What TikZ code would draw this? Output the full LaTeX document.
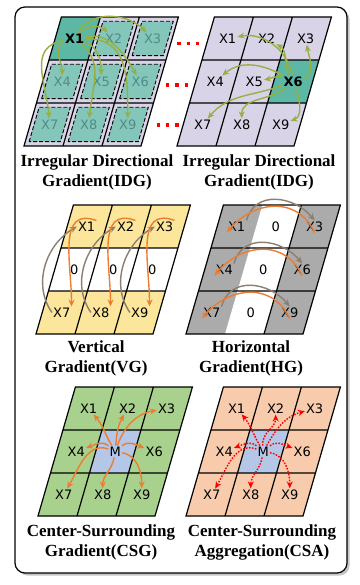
\documentclass[tikz,border=0pt]{standalone}
\usepackage{fontspec}
\setmainfont{Liberation Serif}
\newfontfamily\cellfont{DejaVu Sans}
\usetikzlibrary{arrows.meta, shadows}

\definecolor{lavender}{HTML}{D9D3E8}
\definecolor{tealcell}{HTML}{5CB8A5}
\definecolor{tealbox}{HTML}{84C6BA}
\definecolor{tealtext}{HTML}{4F8C86}
\definecolor{olivearrow}{HTML}{96B041}
\definecolor{yellowcell}{HTML}{FCE69B}
\definecolor{greycell}{HTML}{ABABAB}
\definecolor{greyarrow}{HTML}{8C7E70}
\definecolor{orangearrow}{HTML}{ED7D31}
\definecolor{greencell}{HTML}{A9D18E}
\definecolor{bluecell}{HTML}{B4C7E7}
\definecolor{peachcell}{HTML}{F8CBAD}

\begin{document}
\begin{tikzpicture}[
    x=1pt, y=1pt,
    slanted/.style={xslant=0.29, x=39pt, y=43pt},
    gridline/.style={line width=1.2pt},
    dashbox/.style={fill=tealbox, draw, line width=0.9pt, dash pattern=on 4pt off 2pt},
    cell/.style={font=\cellfont\fontsize{13}{13}\selectfont, inner sep=1pt},
    focus/.style={cell, font=\cellfont\bfseries\fontsize{13}{13}\selectfont},
    faded/.style={cell, text=tealtext},
    caption/.style={font=\bfseries\fontsize{17}{20}\selectfont, align=center},
    idg/.style={-{Stealth[length=7pt, width=6pt]}, line width=1.4pt, draw=olivearrow},
    back/.style={-{Stealth[length=7pt, width=6pt]}, line width=1.4pt, draw=greyarrow},
    forth/.style={-{Stealth[length=7pt, width=6pt]}, line width=1.4pt, draw=orangearrow},
    gather/.style={-{Stealth[length=7pt, width=6pt]}, line width=1.4pt, draw=red, dash pattern=on 1.6pt off 1.4pt},
    dots/.style={draw=red, line width=3.3pt, dash pattern=on 3.3pt off 6pt}
]
    \useasboundingbox (0,0) rectangle (359,-585);

    % Outer panel
    \draw[line width=1.2pt, rounded corners=10pt, fill=white, drop shadow={shadow xshift=2.5pt, shadow yshift=-2.5pt, fill=black!45}] (15,-7) rectangle (347,-573);

    % Irregular directional gradient, left grid
    \begin{scope}[shift={(24,-146)}, slanted]
        \fill[lavender] (0,0) rectangle (3,3);
        \fill[tealcell] (0,2) rectangle (1,3);
        \draw[dashbox] (1.1,2.1) rectangle (1.9,2.9);
        \draw[dashbox] (2.1,2.1) rectangle (2.9,2.9);
        \draw[dashbox] (0.1,1.1) rectangle (0.9,1.9);
        \draw[dashbox] (1.1,1.1) rectangle (1.9,1.9);
        \draw[dashbox] (2.1,1.1) rectangle (2.9,1.9);
        \draw[dashbox] (0.1,0.1) rectangle (0.9,0.9);
        \draw[dashbox] (1.1,0.1) rectangle (1.9,0.9);
        \draw[dashbox] (2.1,0.1) rectangle (2.9,0.9);
        \draw[gridline] (0,0) rectangle (3,3) (1,0) -- (1,3) (2,0) -- (2,3) (0,1) -- (3,1) (0,2) -- (3,2);
        \node[focus] (a1) at (0.5,2.5) {X1}; \node[faded] (a2) at (1.5,2.5) {X2}; \node[faded] (a3) at (2.5,2.5) {X3};
        \node[faded] (a4) at (0.5,1.5) {X4}; \node[faded] (a5) at (1.5,1.5) {X5}; \node[faded] (a6) at (2.5,1.5) {X6};
        \node[faded] (a7) at (0.5,0.5) {X7}; \node[faded] (a8) at (1.5,0.5) {X8}; \node[faded] (a9) at (2.5,0.5) {X9};
    \end{scope}

    % Irregular directional gradient, right grid
    \begin{scope}[shift={(177,-146)}, slanted]
        \fill[lavender] (0,0) rectangle (3,3);
        \fill[tealcell] (2,1) rectangle (3,2);
        \draw[gridline] (0,0) rectangle (3,3) (1,0) -- (1,3) (2,0) -- (2,3) (0,1) -- (3,1) (0,2) -- (3,2);
        \node[cell] (b1) at (0.5,2.5) {X1}; \node[cell] (b2) at (1.5,2.5) {X2}; \node[cell] (b3) at (2.5,2.5) {X3};
        \node[cell] (b4) at (0.5,1.5) {X4}; \node[cell] (b5) at (1.5,1.5) {X5}; \node[focus] (b6) at (2.5,1.5) {X6};
        \node[cell] (b7) at (0.5,0.5) {X7}; \node[cell] (b8) at (1.5,0.5) {X8}; \node[cell] (b9) at (2.5,0.5) {X9};
    \end{scope}

    % Vertical gradient
    \begin{scope}[shift={(36,-334)}, slanted]
        \fill[yellowcell] (0,0) rectangle (3,1) (0,2) rectangle (3,3);
        \fill[white] (0,1) rectangle (3,2);
        \draw[gridline] (0,0) rectangle (3,3) (1,0) -- (1,3) (2,0) -- (2,3) (0,1) -- (3,1) (0,2) -- (3,2);
        \node[cell] (v1) at (0.5,2.5) {X1}; \node[cell] (v2) at (1.5,2.5) {X2}; \node[cell] (v3) at (2.5,2.5) {X3};
        \node[cell] (v4) at (0.5,1.5) {0}; \node[cell] (v5) at (1.5,1.5) {0}; \node[cell] (v6) at (2.5,1.5) {0};
        \node[cell] (v7) at (0.5,0.5) {X7}; \node[cell] (v8) at (1.5,0.5) {X8}; \node[cell] (v9) at (2.5,0.5) {X9};
    \end{scope}

    % Horizontal gradient
    \begin{scope}[shift={(186,-334)}, slanted]
        \fill[greycell] (0,0) rectangle (3,3);
        \fill[white] (1,0) rectangle (2,3);
        \draw[gridline] (0,0) rectangle (3,3) (2,0) -- (2,3) (0,1) -- (3,1) (0,2) -- (3,2);
        \node[cell] (h1) at (0.5,2.5) {X1}; \node[cell] (h2) at (1.5,2.5) {0}; \node[cell] (h3) at (2.5,2.5) {X3};
        \node[cell] (h4) at (0.5,1.5) {X4}; \node[cell] (h5) at (1.5,1.5) {0}; \node[cell] (h6) at (2.5,1.5) {X6};
        \node[cell] (h7) at (0.5,0.5) {X7}; \node[cell] (h8) at (1.5,0.5) {0}; \node[cell] (h9) at (2.5,0.5) {X9};
    \end{scope}

    % Center-surrounding gradient
    \begin{scope}[shift={(38,-516)}, slanted]
        \fill[greencell] (0,0) rectangle (3,3);
        \fill[bluecell] (1,1) rectangle (2,2);
        \draw[gridline] (0,0) rectangle (3,3) (1,0) -- (1,3) (2,0) -- (2,3) (0,1) -- (3,1) (0,2) -- (3,2);
        \node[cell] (c1) at (0.5,2.5) {X1}; \node[cell] (c2) at (1.5,2.5) {X2}; \node[cell] (c3) at (2.5,2.5) {X3};
        \node[cell] (c4) at (0.5,1.5) {X4}; \node[cell] (cm) at (1.5,1.5) {M}; \node[cell] (c6) at (2.5,1.5) {X6};
        \node[cell] (c7) at (0.5,0.5) {X7}; \node[cell] (c8) at (1.5,0.5) {X8}; \node[cell] (c9) at (2.5,0.5) {X9};
    \end{scope}

    % Center-surrounding aggregation
    \begin{scope}[shift={(186,-516)}, slanted]
        \fill[peachcell] (0,0) rectangle (3,3);
        \fill[bluecell] (1,1) rectangle (2,2);
        \draw[gridline] (0,0) rectangle (3,3) (1,0) -- (1,3) (2,0) -- (2,3) (0,1) -- (3,1) (0,2) -- (3,2);
        \node[cell] (s1) at (0.5,2.5) {X1}; \node[cell] (s2) at (1.5,2.5) {X2}; \node[cell] (s3) at (2.5,2.5) {X3};
        \node[cell] (s4) at (0.5,1.5) {X4}; \node[cell] (sm) at (1.5,1.5) {M}; \node[cell] (s6) at (2.5,1.5) {X6};
        \node[cell] (s7) at (0.5,0.5) {X7}; \node[cell] (s8) at (1.5,0.5) {X8}; \node[cell] (s9) at (2.5,0.5) {X9};
    \end{scope}

    % Ellipses between the two IDG grids
    \draw[dots] (177.3,-43.3) -- (200,-43.3);
    \draw[dots] (166,-85) -- (188.7,-85);
    \draw[dots] (156.7,-125) -- (179.4,-125);

    % Captions
    \node[caption] (idgcapA) at (97,-172) {Irregular Directional\\Gradient(IDG)};
    \node[caption] (idgcapB) at (259,-172) {Irregular Directional\\Gradient(IDG)};
    \node[caption] (vgcap) at (96,-358) {Vertical\\Gradient(VG)};
    \node[caption] (hgcap) at (251,-358) {Horizontal\\Gradient(HG)};
    \node[caption] (csgcap) at (101,-542) {Center-Surrounding\\Gradient(CSG)};
    \node[caption] (csacap) at (262,-542) {Center-Surrounding\\Aggregation(CSA)};

    % IDG arrows from X1
    \draw[idg] (a1) to[bend left=45] (a2);
    \draw[idg] (a1) to[out=60, in=135] (a3);
    \draw[idg] (a1) to[out=200, in=90] (a4);
    \draw[idg] (a1) to[out=190, in=95, looseness=1.2] (a7);
    \draw[idg] (a1) to[out=-20, in=90] (a5);
    \draw[idg] (a1) to[out=-40, in=85] (a8);
    \draw[idg] (a1) to[out=10, in=120] (a6);
    \draw[idg] (a1) to[out=0, in=90, looseness=1.2] (a9);

    % IDG arrows from X6
    \draw[idg] (b6) to[out=100, in=10] (b1);
    \draw[idg] (b6) to[out=120, in=-30] (b2);
    \draw[idg] (b6) to[out=20, in=-80] (b3);
    \draw[idg] (b6) to[out=150, in=40] (b4);
    \draw[idg] (b6) to[out=160, in=10] (b5);
    \draw[idg] (b6) to[out=200, in=50] (b7);
    \draw[idg] (b6) to[out=220, in=90] (b8);
    \draw[idg] (b6) to[out=-70, in=20] (b9);

    % Vertical gradient arrows
    \draw[back] (v7.west) to[out=125, in=210] (v1.west);
    \draw[forth] (v1.north east) to[out=160, in=90, looseness=1.2] (v7.north east);
    \draw[back] (v8.west) to[out=125, in=210] (v2.west);
    \draw[forth] (v2.north east) to[out=160, in=90, looseness=1.2] (v8.north east);
    \draw[back] (v9.west) to[out=125, in=210] (v3.west);
    \draw[forth] (v3.north east) to[out=160, in=90, looseness=1.2] (v9.north east);

    % Horizontal gradient arrows
    \draw[back] (h1.north east) to[out=75, in=130, looseness=1.2] (h3.north);
    \draw[forth] (h3.south) to[out=115, in=50, looseness=1.2] (h1.south west);
    \draw[back] (h4.north east) to[out=75, in=130, looseness=1.2] (h6.north);
    \draw[forth] (h6.south) to[out=115, in=50, looseness=1.2] (h4.south west);
    \draw[back] (h7.north east) to[out=75, in=130, looseness=1.2] (h9.north);
    \draw[forth] (h9.south) to[out=115, in=50, looseness=1.2] (h7.south west);

    % Center-surrounding gradient arrows
    \draw[forth] (cm) to[out=120, in=-50] (c1);
    \draw[forth] (cm) to[out=85, in=-120] (c2);
    \draw[forth] (cm) to[out=70, in=190] (c3);
    \draw[forth] (cm) to[out=140, in=20] (c4);
    \draw[forth] (cm) to[out=40, in=160] (c6);
    \draw[forth] (cm) to[out=160, in=60] (c7);
    \draw[forth] (cm) to[out=-100, in=90] (c8);
    \draw[forth] (cm) to[out=-10, in=90] (c9);

    % Center-surrounding aggregation arrows
    \draw[gather] (sm) to[out=120, in=-50] (s1);
    \draw[gather] (sm) to[out=95, in=-90] (s2);
    \draw[gather] (sm) to[out=60, in=195] (s3);
    \draw[gather] (sm) to[out=140, in=20] (s4);
    \draw[gather] (sm) to[out=40, in=160] (s6);
    \draw[gather] (sm) to[out=160, in=60] (s7);
    \draw[gather] (sm) to[out=-100, in=90] (s8);
    \draw[gather] (sm) to[out=-10, in=90] (s9);
\end{tikzpicture}
\end{document}
